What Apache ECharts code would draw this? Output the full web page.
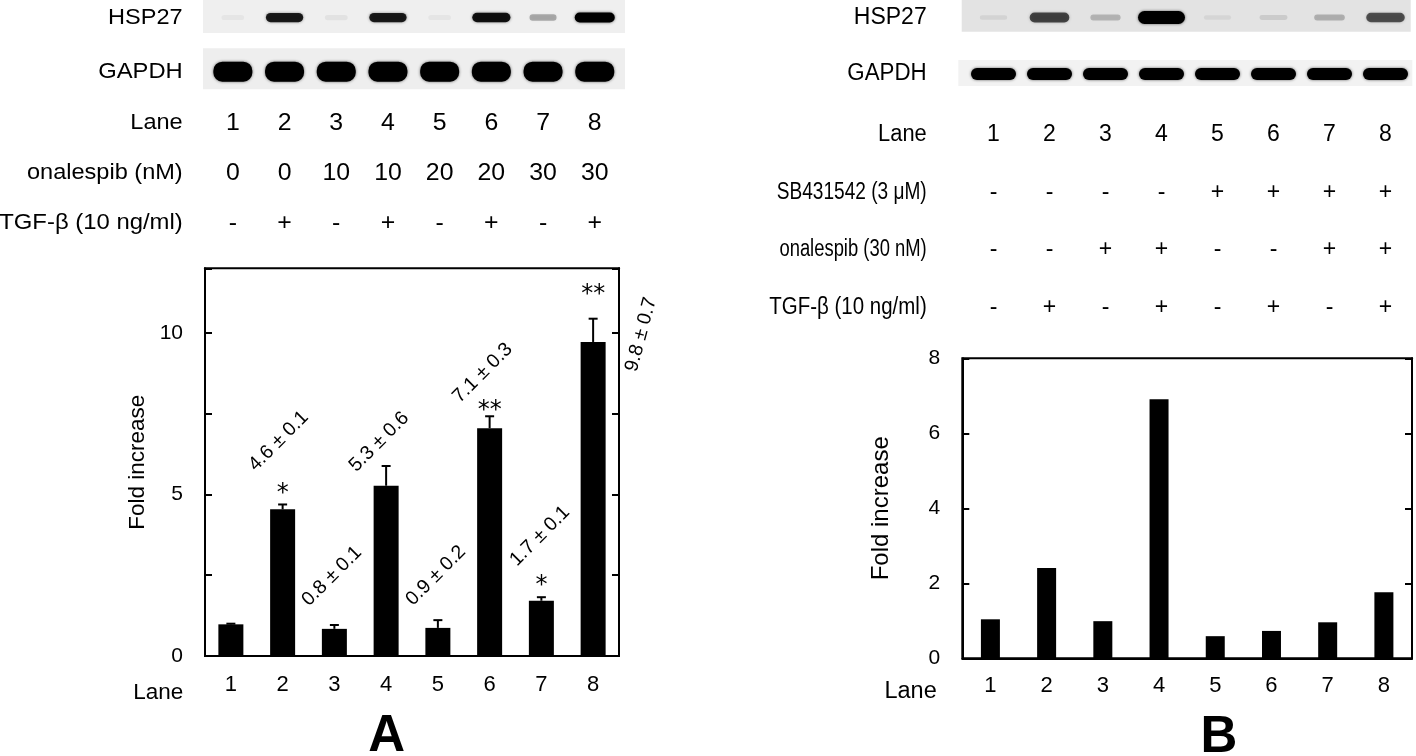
<!DOCTYPE html>
<html>
<head>
<meta charset="utf-8">
<script src="https://cdn.jsdelivr.net/npm/echarts@6/dist/echarts.min.js"></script>
<style>html,body{margin:0;padding:0;background:#fff}#c{width:1416px;height:756px}</style>
</head>
<body>
<div id="c"></div>
<script>
// ---------------- DATA ----------------
const lanes = ['1', '2', '3', '4', '5', '6', '7', '8'];

// Panel A
const foldA = [0.98, 4.54, 0.84, 5.27, 0.87, 7.05, 1.71, 9.72];
const errA = [0.02, 0.15, 0.12, 0.61, 0.24, 0.37, 0.11, 0.72];
const statLabelsA = ['', '4.6 ± 0.1', '0.8 ± 0.1', '5.3 ± 0.6', '0.9 ± 0.2', '7.1 ± 0.3', '1.7 ± 0.1', '9.8 ± 0.7'];
const starsA = ['', '*', '', '', '', '**', '*', '**'];
const rowsA = ['Lane', 'onalespib (nM)', 'TGF-β (10 ng/ml)'];
const onalespibA = ['0', '0', '10', '10', '20', '20', '30', '30'];
const tgfA = ['-', '+', '-', '+', '-', '+', '-', '+'];
const hspBandA = [0.04, 0.85, 0.05, 0.85, 0.04, 0.9, 0.28, 1.0];
const gapdhBandA = [1, 1, 1, 1, 1, 1, 1, 1];

// Panel B
const foldB = [1.04, 2.41, 0.99, 6.91, 0.59, 0.73, 0.96, 1.76];
const rowsB = ['Lane', 'SB431542 (3 μM)', 'onalespib (30 nM)', 'TGF-β (10 ng/ml)'];
const sbB = ['-', '-', '-', '-', '+', '+', '+', '+'];
const onalespibB = ['-', '-', '+', '+', '-', '-', '+', '+'];
const tgfB = ['-', '+', '-', '+', '-', '+', '-', '+'];
const hspBandB = [0.07, 0.65, 0.2, 1.0, 0.06, 0.1, 0.22, 0.6];
const gapdhBandB = [1, 1, 1, 1, 1, 1, 1, 1];

// ---------------- LAYOUT (positions / styles) ----------------
const FONT = "'Liberation Sans', Arial, Helvetica, sans-serif";
const statPosA = [null, 6.65, 2.47, 6.63, 2.49, 8.76, 3.71, 9.95];   // label centre height (axis units)
const statDxA = [0, -4, -2.5, -7, -2, -7, -1.5, 48];
const statRotA = [45, 45, 45, 45, 45, 45, 45, 75];
const starGapA = [0, 17, 0, 0, 0, 12, 17, 30];

const tableA = [lanes, onalespibA, tgfA];
const tableB = [lanes, sbB, onalespibB, tgfB];

function hiddenCat(gi) {
  return { type: 'category', gridIndex: gi, data: lanes, show: false, boundaryGap: true };
}
function hiddenRows(gi, rows) {
  return { type: 'category', gridIndex: gi, data: rows, inverse: true, show: false };
}
function txt(x, y, text, fs, align, sx) {
  return {
    type: 'text', x: x, y: y, scaleX: sx || 1,
    style: { text: text, fill: '#000', fontSize: fs, fontFamily: FONT,
             align: align, verticalAlign: 'middle', textAlign: align, textVerticalAlign: 'middle' }
  };
}
// row labels (left of a grid), rendered through the grid's row axis
function rowLabelSeries(gi, rows, fs, margin, scales) {
  return {
    type: 'custom', xAxisIndex: gi, yAxisIndex: gi, z: 5, clip: false,
    data: rows.map((r, k) => [0, k]), encode: { x: 0, y: 1 },
    renderItem: function (params, api) {
      const k = params.dataIndex;
      const c = api.coord([0, k]);
      return txt(params.coordSys.x - margin, c[1], rows[k], fs, 'right', scales[k]);
    }
  };
}
function bandSeries(gi, arr, wFn, hFn, rr) {
  return {
    type: 'custom', xAxisIndex: gi, yAxisIndex: gi, z: 5,
    data: lanes.map((l, i) => [i, 0]),
    encode: { x: 0, y: 1 },
    renderItem: function (params, api) {
      const v = arr[params.dataIndex];
      const c = api.coord([api.value(0), 0]);
      const w = wFn(v), h = hFn(v);
      return {
        type: 'rect',
        shape: { x: c[0] - w / 2, y: c[1] - h / 2, width: w, height: h, r: rr ? rr : h / 2 },
        style: { fill: 'rgba(0,0,0,' + v + ')', shadowBlur: 3, shadowColor: 'rgba(0,0,0,' + (v * 0.6) + ')' }
      };
    }
  };
}
function tableSeries(gi, table, fs, sx) {
  const data = [];
  table.forEach((row, r) => row.forEach((t, i) => data.push([i, r])));
  return {
    type: 'custom', xAxisIndex: gi, yAxisIndex: gi, z: 5,
    data: data, encode: { x: 0, y: 1 },
    renderItem: function (params, api) {
      const i = api.value(0), r = api.value(1);
      const c = api.coord([i, r]);
      return txt(c[0], c[1], table[r][i], fs, 'center', sx);
    }
  };
}

const chart = echarts.init(document.getElementById('c'), null, { renderer: 'canvas' });

const option = {
  backgroundColor: '#fff',
  animation: false,
  grid: [
    { left: 205, top: 268.3, width: 414, height: 387.7, show: true, borderColor: '#000', borderWidth: 2, backgroundColor: 'transparent', outerBoundsMode: 'none' },
    { left: 962.3, top: 358.3, width: 449.7, height: 300, show: true, borderColor: '#000', borderWidth: 2, backgroundColor: 'transparent', outerBoundsMode: 'none' },
    { left: 207, top: 1, width: 413.6, height: 33, outerBoundsMode: 'none' },
    { left: 207, top: 51.5, width: 413.6, height: 40.4, outerBoundsMode: 'none' },
    { left: 207, top: 98.3, width: 413.6, height: 150, outerBoundsMode: 'none' },
    { left: 965.5, top: 1.5, width: 448, height: 32, outerBoundsMode: 'none' },
    { left: 965.5, top: 60, width: 448, height: 28, outerBoundsMode: 'none' },
    { left: 965.5, top: 106.3, width: 448, height: 230, outerBoundsMode: 'none' }
  ],
  xAxis: [
    {
      type: 'category', gridIndex: 0, data: lanes, boundaryGap: true,
      axisLine: { lineStyle: { color: '#000', width: 2 } }, axisTick: { show: false },
      axisLabel: { color: '#000', fontSize: 22, fontFamily: FONT, margin: 18 }
    },
    {
      type: 'category', gridIndex: 1, data: lanes, boundaryGap: true,
      axisLine: { lineStyle: { color: '#000', width: 2 } }, axisTick: { show: false },
      axisLabel: { color: '#000', fontSize: 22, fontFamily: FONT, margin: 17 }
    },
    hiddenCat(2), hiddenCat(3), hiddenCat(4), hiddenCat(5), hiddenCat(6), hiddenCat(7)
  ],
  yAxis: [
    {
      type: 'value', gridIndex: 0, min: 0, max: 12, interval: 2.5, position: 'left',
      axisLine: { show: true, lineStyle: { color: '#000', width: 2 } },
      axisTick: { show: true, inside: true, length: 7, lineStyle: { color: '#000', width: 2 } },
      splitLine: { show: false },
      axisLabel: { color: '#000', fontSize: 21, fontFamily: FONT, margin: 22,
                   formatter: v => (v % 5 === 0 ? String(v) : '') },
      name: 'Fold increase', nameLocation: 'middle', nameRotate: 90, nameGap: 56, nameMoveOverlap: false,
      nameTextStyle: { color: '#000', fontSize: 22.5, fontFamily: FONT }
    },
    {
      type: 'value', gridIndex: 1, min: 0, max: 8, interval: 2, position: 'left',
      axisLine: { show: true, lineStyle: { color: '#000', width: 2 } },
      axisTick: { show: true, inside: true, length: 7, lineStyle: { color: '#000', width: 2 } },
      splitLine: { show: false },
      axisLabel: { color: '#000', fontSize: 21, fontFamily: FONT, margin: 22 },
      name: 'Fold increase', nameLocation: 'middle', nameRotate: 90, nameGap: 69, nameMoveOverlap: false,
      nameTextStyle: { color: '#000', fontSize: 24, fontFamily: FONT }
    },
    hiddenRows(2, ['HSP27']),
    hiddenRows(3, ['GAPDH']),
    hiddenRows(4, rowsA),
    hiddenRows(5, ['HSP27']),
    hiddenRows(6, ['GAPDH']),
    hiddenRows(7, rowsB),
    {
      type: 'value', gridIndex: 0, min: 0, max: 12, interval: 2.5, position: 'right',
      axisLine: { show: true, lineStyle: { color: '#000', width: 2 } },
      axisTick: { show: true, inside: true, length: 7, lineStyle: { color: '#000', width: 2 } },
      axisLabel: { show: false }, splitLine: { show: false }
    },
    {
      type: 'value', gridIndex: 1, min: 0, max: 8, interval: 2, position: 'right',
      axisLine: { show: true, lineStyle: { color: '#000', width: 2 } },
      axisTick: { show: true, inside: true, length: 7, lineStyle: { color: '#000', width: 2 } },
      axisLabel: { show: false }, splitLine: { show: false }
    }
  ],
  series: [
    { type: 'bar', xAxisIndex: 0, yAxisIndex: 0, data: foldA, barWidth: 25, itemStyle: { color: '#000' }, z: 3 },
    {
      type: 'custom', xAxisIndex: 0, yAxisIndex: 0, z: 4,
      data: lanes.map((l, i) => [i, foldA[i], errA[i]]), encode: { x: 0, y: 1 },
      renderItem: function (params, api) {
        const i = api.value(0);
        const p0 = api.coord([i, api.value(1)]);
        const p1 = api.coord([i, api.value(1) + api.value(2)]);
        return {
          type: 'group', children: [
            { type: 'line', shape: { x1: p0[0], y1: p0[1], x2: p1[0], y2: p1[1] }, style: { stroke: '#000', lineWidth: 2 } },
            { type: 'line', shape: { x1: p1[0] - 4.5, y1: p1[1], x2: p1[0] + 4.5, y2: p1[1] }, style: { stroke: '#000', lineWidth: 2 } }
          ]
        };
      }
    },
    {
      type: 'custom', xAxisIndex: 0, yAxisIndex: 0, z: 4, clip: false,
      data: lanes.map((l, i) => [i, foldA[i] + errA[i]]), encode: { x: 0, y: 1 },
      renderItem: function (params, api) {
        const k = params.dataIndex;
        const children = [];
        if (starsA[k]) {
          const p = api.coord([api.value(0), api.value(1)]);
          children.push({
            type: 'text', x: p[0], y: p[1] - starGapA[k] + 6,
            style: { text: starsA[k], fill: '#000', fontSize: 24, fontFamily: "'DejaVu Sans', sans-serif",
                     align: 'center', verticalAlign: 'middle', textAlign: 'center', textVerticalAlign: 'middle' }
          });
        }
        if (statLabelsA[k]) {
          const q = api.coord([api.value(0), statPosA[k]]);
          children.push({
            type: 'text', x: q[0] + statDxA[k], y: q[1], rotation: statRotA[k] * Math.PI / 180,
            style: { text: statLabelsA[k], fill: '#000', fontSize: 19.5, fontFamily: FONT,
                     align: 'center', verticalAlign: 'middle', textAlign: 'center', textVerticalAlign: 'middle' }
          });
        }
        return { type: 'group', children: children };
      }
    },
    { type: 'bar', xAxisIndex: 1, yAxisIndex: 1, data: foldB, barWidth: 19, itemStyle: { color: '#000' }, z: 3 },
    bandSeries(2, hspBandA, v => 22 + 18 * v, v => 5 + 5 * v),
    bandSeries(3, gapdhBandA, v => 39 * v, v => 20 * v, 9),
    tableSeries(4, tableA, 23, 1.08),
    bandSeries(5, hspBandB, v => 26 + 21 * v, v => 4 + 9 * v),
    bandSeries(6, gapdhBandB, v => 45 * v, v => 12 * v),
    tableSeries(7, tableB, 23, 1),
    rowLabelSeries(2, ['HSP27'], 22, 24.3, [1.07]),
    rowLabelSeries(3, ['GAPDH'], 22, 24.3, [1.08]),
    rowLabelSeries(4, rowsA, 22, 24.3, [1.07, 1.07, 1.085]),
    rowLabelSeries(5, ['HSP27'], 23, 38.8, [1.0]),
    rowLabelSeries(6, ['GAPDH'], 23, 38.8, [0.97]),
    rowLabelSeries(7, rowsB, 23, 38.8, [0.95, 0.83, 0.8, 0.89])
  ],
  graphic: [
    { type: 'rect', z: -10, shape: { x: 203, y: 0, width: 422, height: 33 }, style: { fill: '#efefef' } },
    { type: 'rect', z: -10, shape: { x: 203, y: 48.3, width: 422, height: 41 }, style: { fill: '#eeeeee' } },
    { type: 'rect', z: -10, shape: { x: 961.7, y: 0, width: 449, height: 31.7 }, style: { fill: '#e3e3e3' } },
    { type: 'rect', z: -10, shape: { x: 958.3, y: 60, width: 454, height: 26 }, style: { fill: '#f2f2f2' } },
    { type: 'text', x: 183.3, y: 692.3, style: { text: 'Lane', fill: '#000', fontSize: 22.5, fontFamily: FONT, align: 'right', verticalAlign: 'middle', textAlign: 'right', textVerticalAlign: 'middle' } },
    { type: 'text', x: 936.7, y: 691.7, style: { text: 'Lane', fill: '#000', fontSize: 23.5, fontFamily: FONT, align: 'right', verticalAlign: 'middle', textAlign: 'right', textVerticalAlign: 'middle' } },
    { type: 'text', x: 386.7, y: 737, style: { text: 'A', fill: '#000', fontSize: 51, fontWeight: 'bold', fontFamily: FONT, align: 'center', verticalAlign: 'middle', textAlign: 'center', textVerticalAlign: 'middle' } },
    { type: 'text', x: 1219, y: 738, style: { text: 'B', fill: '#000', fontSize: 51, fontWeight: 'bold', fontFamily: FONT, align: 'center', verticalAlign: 'middle', textAlign: 'center', textVerticalAlign: 'middle' } }
  ]
};
chart.setOption(option);
</script>
</body>
</html>
